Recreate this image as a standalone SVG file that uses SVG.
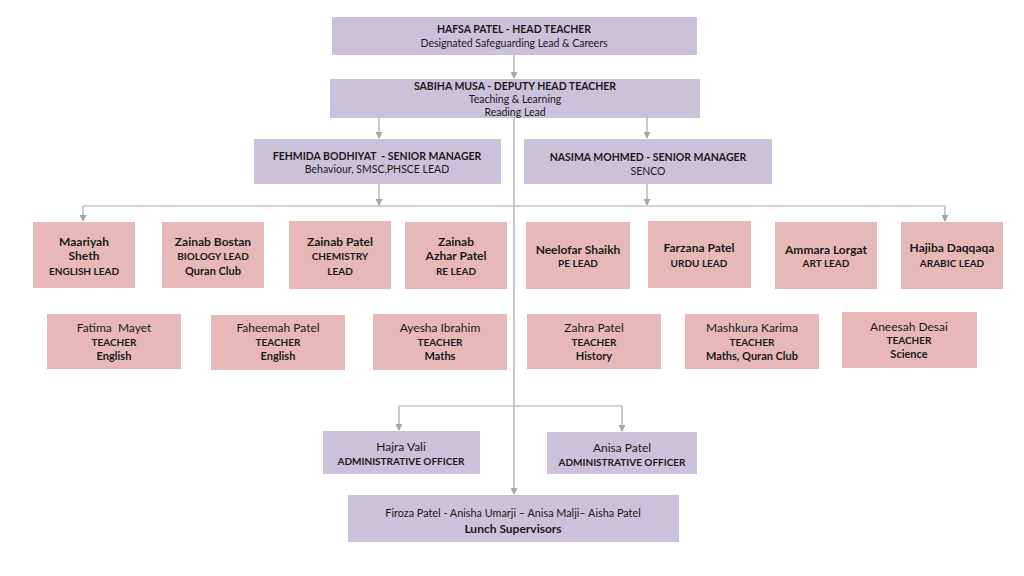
<svg xmlns="http://www.w3.org/2000/svg" width="1024" height="576" viewBox="0 0 1024 576">
<defs>
<marker id="ah" viewBox="0 0 8 8" refX="7" refY="4" markerWidth="7" markerHeight="7" markerUnits="userSpaceOnUse" orient="auto">
<path d="M0,0 L8,4 L0,8 Z" fill="#a6a6a6"/>
</marker>
<style>
.p{fill:#ccc1da}
.r{fill:#e6b9b8}
text{font-family:Lato,"Open Sans","Liberation Sans",sans-serif;fill:#1a1a1a;text-anchor:middle}
.b{font-weight:bold}
.h{font-size:10.5px}
.m{font-size:10.85px}
.n{font-size:12px;font-weight:bold}
.s{font-size:10px;font-weight:bold}
.w{font-size:11px;font-weight:bold}
.t{font-size:12px}
.l{fill:none;stroke:#a6a6a6;stroke-width:1.2}
</style>
</defs>
<rect width="1024" height="576" fill="#ffffff"/>
<g id="connectors">
<path class="l" d="M514,55 V78" marker-end="url(#ah)"/>
<path class="l" d="M379,118 V138" marker-end="url(#ah)"/>
<path class="l" d="M647,118 V138" marker-end="url(#ah)"/>
<path class="l" d="M379,184 V205" marker-end="url(#ah)"/>
<path class="l" d="M647,184 V205" marker-end="url(#ah)"/>
<path class="l" d="M83,206 H945"/>
<path class="l" d="M83,206 V221" marker-end="url(#ah)"/>
<path class="l" d="M945,206 V221" marker-end="url(#ah)"/>
<path class="l" d="M514,118 V494" marker-end="url(#ah)"/>
<path class="l" d="M399,406 H622"/>
<path class="l" d="M399,406 V430" marker-end="url(#ah)"/>
<path class="l" d="M622,406 V431" marker-end="url(#ah)"/>
</g>
<g id="head">
<rect class="p" x="332" y="17" width="365" height="38"/>
<text x="514" y="33" class="h b">HAFSA PATEL - HEAD TEACHER</text>
<text x="514" y="47" class="h">Designated Safeguarding Lead &amp; Careers</text>
</g>
<g id="deputy">
<rect class="p" x="330" y="79" width="370" height="39"/>
<text x="515" y="89.5" class="h b">SABIHA MUSA - DEPUTY HEAD TEACHER</text>
<text x="515" y="103" class="h">Teaching &amp; Learning</text>
<text x="515" y="116" class="h">Reading Lead</text>
</g>
<g id="mgr-fehmida">
<rect class="p" x="254" y="139" width="247" height="45"/>
<text x="377" y="159.5" class="h b" xml:space="preserve">FEHMIDA BODHIYAT  - SENIOR MANAGER</text>
<text x="377" y="173" class="h">Behaviour, SMSC,PHSCE LEAD</text>
</g>
<g id="mgr-nasima">
<rect class="p" x="524" y="139" width="248" height="45"/>
<text x="648" y="161" class="h b">NASIMA MOHMED - SENIOR MANAGER</text>
<text x="648" y="175" class="h">SENCO</text>
</g>
<g id="lead-maariyah">
<rect class="r" x="33" y="222" width="102" height="66"/>
<text x="84" y="246" class="n">Maariyah</text>
<text x="84" y="260" class="n">Sheth</text>
<text x="84" y="275" class="s">ENGLISH LEAD</text>
</g>
<g id="lead-zainab-bostan">
<rect class="r" x="162" y="222" width="102" height="66"/>
<text x="213" y="246" class="n">Zainab Bostan</text>
<text x="213" y="260" class="s">BIOLOGY LEAD</text>
<text x="213" y="275" class="w">Quran Club</text>
</g>
<g id="lead-zainab-patel">
<rect class="r" x="289" y="221" width="102" height="68"/>
<text x="340" y="246" class="n">Zainab Patel</text>
<text x="340" y="260" class="s">CHEMISTRY</text>
<text x="340" y="275" class="s">LEAD</text>
</g>
<g id="lead-zainab-azhar">
<rect class="r" x="405" y="222" width="102" height="67"/>
<text x="456" y="246" class="n">Zainab</text>
<text x="456" y="260" class="n">Azhar Patel</text>
<text x="456" y="275" class="s">RE LEAD</text>
</g>
<g id="lead-neelofar">
<rect class="r" x="526" y="222" width="104" height="67"/>
<text x="578" y="254" class="n">Neelofar Shaikh</text>
<text x="578" y="267" class="s">PE LEAD</text>
</g>
<g id="lead-farzana">
<rect class="r" x="648" y="221" width="103" height="67"/>
<text x="699" y="252" class="n">Farzana Patel</text>
<text x="699" y="267" class="s">URDU LEAD</text>
</g>
<g id="lead-ammara">
<rect class="r" x="775" y="222" width="102" height="67"/>
<text x="826" y="254" class="n">Ammara Lorgat</text>
<text x="826" y="267" class="s">ART LEAD</text>
</g>
<g id="lead-hajiba">
<rect class="r" x="901" y="222" width="102" height="67"/>
<text x="952" y="252" class="n">Hajiba Daqqaqa</text>
<text x="952" y="267" class="s">ARABIC LEAD</text>
</g>
<g id="teacher-fatima">
<rect class="r" x="47" y="314" width="134" height="55"/>
<text x="114" y="332" class="t" xml:space="preserve">Fatima  Mayet</text>
<text x="114" y="346" class="s">TEACHER</text>
<text x="114" y="360" class="w">English</text>
</g>
<g id="teacher-faheemah">
<rect class="r" x="211" y="315" width="134" height="55"/>
<text x="278" y="332" class="t">Faheemah Patel</text>
<text x="278" y="346" class="s">TEACHER</text>
<text x="278" y="360" class="w">English</text>
</g>
<g id="teacher-ayesha">
<rect class="r" x="373" y="314" width="134" height="56"/>
<text x="440" y="332" class="t">Ayesha Ibrahim</text>
<text x="440" y="346" class="s">TEACHER</text>
<text x="440" y="360" class="w">Maths</text>
</g>
<g id="teacher-zahra">
<rect class="r" x="527" y="314" width="134" height="55"/>
<text x="594" y="332" class="t">Zahra Patel</text>
<text x="594" y="346" class="s">TEACHER</text>
<text x="594" y="360" class="w">History</text>
</g>
<g id="teacher-mashkura">
<rect class="r" x="685" y="314" width="134" height="55"/>
<text x="752" y="332" class="t">Mashkura Karima</text>
<text x="752" y="346" class="s">TEACHER</text>
<text x="752" y="360" class="w">Maths, Quran Club</text>
</g>
<g id="teacher-aneesah">
<rect class="r" x="842" y="312" width="135" height="56"/>
<text x="909" y="331" class="t">Aneesah Desai</text>
<text x="909" y="344" class="s">TEACHER</text>
<text x="909" y="358" class="w">Science</text>
</g>
<g id="admin-hajra">
<rect class="p" x="323" y="431" width="157" height="43"/>
<text x="401" y="451" class="t">Hajra Vali</text>
<text x="401" y="465" class="s">ADMINISTRATIVE OFFICER</text>
</g>
<g id="admin-anisa">
<rect class="p" x="547" y="432" width="150" height="42"/>
<text x="622" y="452" class="t">Anisa Patel</text>
<text x="622" y="466" class="s">ADMINISTRATIVE OFFICER</text>
</g>
<g id="lunch">
<rect class="p" x="348" y="495" width="331" height="47"/>
<text x="513" y="517" class="m">Firoza Patel - Anisha Umarji – Anisa Malji– Aisha Patel</text>
<text x="513" y="533" class="t b">Lunch Supervisors</text>
</g>
</svg>
